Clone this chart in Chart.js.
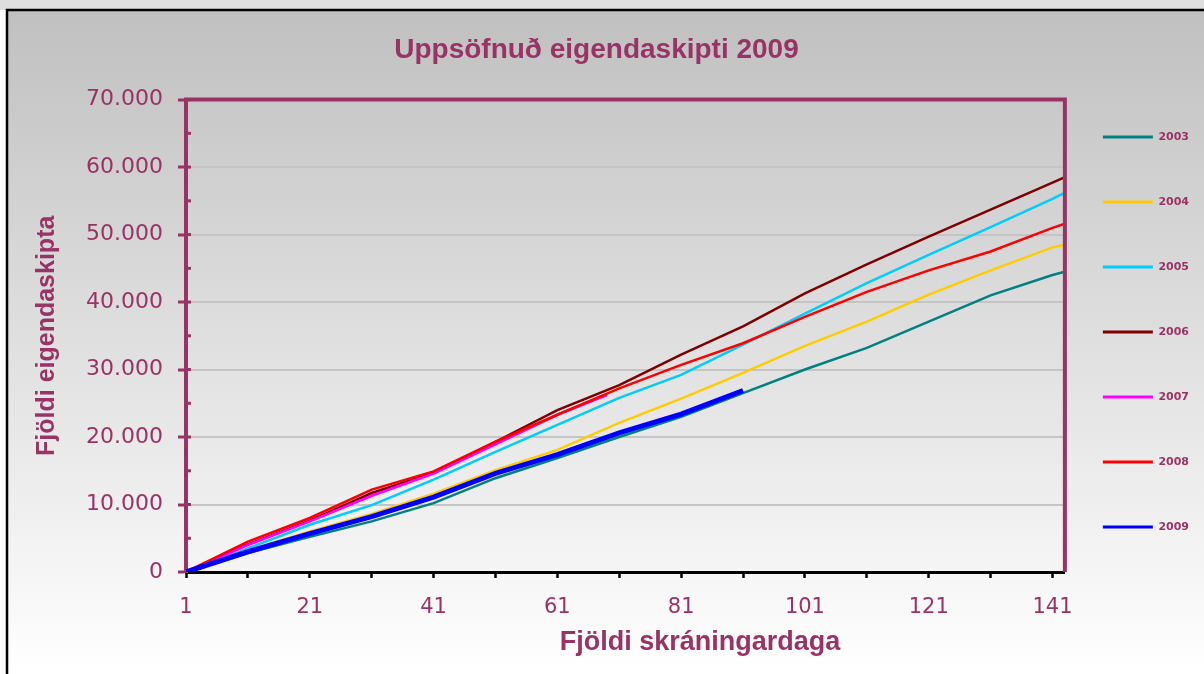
<!doctype html>
<html lang="is">
<head>
  <meta charset="utf-8">
  <title>Uppsöfnuð eigendaskipti 2009</title>
  <script src="https://cdn.jsdelivr.net/npm/chart.js@4/dist/chart.umd.min.js"></script>
  <style>
    body { margin: 0; background: #fff; }
    canvas { display: block; }
  </style>
</head>
<body>
<canvas id="myChart" width="1204" height="674"></canvas>

<script>
var days = [1, 11, 21, 31, 41, 51, 61, 71, 81, 91, 101, 111, 121, 131, 141, 143];
var days2007 = [1, 11, 21, 31, 41, 51, 61, 69];
var days2009 = [1, 11, 21, 31, 41, 51, 61, 71, 81, 91];

var y2003 = [0, 2800, 5200, 7500, 10200, 13900, 16900, 20000, 23000, 26500, 30000, 33200, 37100, 41000, 44000, 44500];
var y2004 = [0, 3200, 6000, 8600, 11600, 15100, 18100, 22100, 25700, 29500, 33500, 37100, 41100, 44700, 48100, 48500];
var y2005 = [0, 3500, 7000, 9900, 13700, 17800, 21800, 25800, 29200, 33700, 38300, 42800, 47000, 51100, 55300, 56200];
var y2006 = [0, 4100, 7600, 11700, 14700, 19300, 24000, 27700, 32200, 36400, 41300, 45600, 49700, 53700, 57700, 58500];
var y2007 = [0, 4000, 7500, 11300, 14600, 18900, 23300, 26200];
var y2008 = [0, 4500, 8000, 12200, 14900, 19300, 23300, 27200, 30700, 33900, 37800, 41500, 44700, 47500, 51000, 51600];
var y2009 = [0, 3000, 5700, 8200, 11100, 14600, 17400, 20600, 23400, 26900];

var years = ['2003', '2004', '2005', '2006', '2007', '2008', '2009'];
var colors = ['#008080', '#FFCC00', '#00CCFF', '#800000', '#FF00FF', '#FF0000', '#0000FF'];

var xTickDays = [1, 11, 21, 31, 41, 51, 61, 71, 81, 91, 101, 111, 121, 131, 141];
var xLabelDays = [1, 21, 41, 61, 81, 101, 121, 141];

var purple = '#993366';

function pts(xs, ys) {
  return xs.map(function (d, i) { return {x: d, y: ys[i]}; });
}
var series = [
  pts(days, y2003), pts(days, y2004), pts(days, y2005), pts(days, y2006),
  pts(days2007, y2007), pts(days, y2008), pts(days2009, y2009)
];

function fmt(v) {
  return String(v).replace(/\B(?=(\d{3})+(?!\d))/g, '.');
}

// gradient background + outer frame
var bgPlugin = {
  id: 'bg',
  beforeDraw: function (chart) {
    var c = chart.ctx, w = chart.width, h = chart.height;
    c.save();
    c.fillStyle = '#ffffff';
    c.fillRect(0, 0, w, h);
    c.fillStyle = '#dedede';
    c.fillRect(0, 0, w, 10);
    var g = c.createLinearGradient(0, 10, 0, h);
    g.addColorStop(0, '#c0c0c0');
    g.addColorStop(1, '#ffffff');
    c.fillStyle = g;
    c.fillRect(7, 10, w - 7, h - 10);
    c.strokeStyle = '#000';
    c.lineWidth = 2.5;
    c.beginPath();
    c.moveTo(7, h);
    c.lineTo(7, 10);
    c.lineTo(w, 10);
    c.stroke();
    c.restore();
  }
};

// top/right frame of the plot, inner y ticks, x axis title
var framePlugin = {
  id: 'frame',
  afterLayout: function (chart) {
    var lg = chart.legend;
    if (lg) { lg.left -= 16; lg.right -= 16; lg.top -= 5; lg.bottom -= 5; }
    var tb = chart.titleBlock;
    if (tb) { tb.left -= 15; tb.right -= 15; }
  },
  afterDraw: function (chart) {
    var c = chart.ctx, a = chart.chartArea, ys = chart.scales.y;
    c.save();
    c.strokeStyle = purple;
    c.lineWidth = 4;
    c.beginPath();
    c.moveTo(a.left - 2, a.top);
    c.lineTo(a.right, a.top);
    c.lineTo(a.right, a.bottom);
    c.stroke();
    c.lineWidth = 3;
    ys.ticks.forEach(function (t) {
      if (t.value === 0) return;
      var yy = ys.getPixelForValue(t.value);
      c.beginPath();
      c.moveTo(a.left, yy);
      c.lineTo(a.left + 5, yy);
      c.stroke();
    });
    c.fillStyle = purple;
    c.font = 'bold 27px "Liberation Sans", Arial, sans-serif';
    c.textAlign = 'center';
    c.textBaseline = 'middle';
    c.fillText('Fjöldi skráningardaga', 700, 643);
    c.restore();
  }
};

var ctx = document.getElementById('myChart').getContext('2d');
var myChart = new Chart(ctx, {
  type: 'line',
  data: {
    datasets: series.map(function (d, i) {
      return {
        label: years[i],
        data: d,
        borderColor: colors[i],
        backgroundColor: colors[i],
        borderWidth: i === 6 ? 5 : 2.5,
        pointRadius: 0,
        tension: 0,
        order: 6 - i
      };
    })
  },
  plugins: [bgPlugin, framePlugin],
  options: {
    responsive: false,
    devicePixelRatio: 1,
    animation: false,
    layout: {padding: {left: 8, right: -11, top: 0, bottom: 0}},
    scales: {
      x: {
        type: 'linear',
        min: 1,
        max: 143,
        afterBuildTicks: function (s) {
          s.ticks = xTickDays.map(function (v) { return {value: v}; });
        },
        afterFit: function (s) { s.height = 102; },
        grid: {display: true, drawOnChartArea: false, tickLength: 6, tickColor: '#000', tickWidth: 2.5},
        border: {color: '#000', width: 3},
        ticks: {
          autoSkip: false,
          maxRotation: 0,
          padding: 17,
          color: purple,
          font: {family: '"DejaVu Sans", Verdana, sans-serif', size: 21},
          callback: function (v) { return xLabelDays.indexOf(v) >= 0 ? String(v) : ''; }
        }
      },
      y: {
        min: 0,
        max: 70000,
        afterFit: function (s) { s.width = 178; },
        grid: {
          color: function (c) { return c.tick && c.tick.value % 10000 === 0 ? '#c4c4c4' : 'rgba(0,0,0,0)'; },
          lineWidth: 2,
          tickLength: 8,
          tickWidth: 3,
          tickColor: function (c) { return c.tick && c.tick.value % 10000 === 0 ? purple : 'rgba(0,0,0,0)'; }
        },
        border: {color: purple, width: 4},
        ticks: {
          stepSize: 5000,
          padding: 15,
          color: purple,
          font: {family: '"DejaVu Sans", Verdana, sans-serif', size: 22},
          callback: function (v) { return v % 10000 === 0 ? fmt(v) : ''; }
        },
        title: {
          display: true,
          text: 'Fjöldi eigendaskipta',
          color: purple,
          font: {family: '"Liberation Sans", Arial, sans-serif', size: 25, weight: 'bold'},
          padding: {top: 24, bottom: 0}
        }
      }
    },
    plugins: {
      title: {
        display: true,
        text: 'Uppsöfnuð eigendaskipti 2009',
        color: purple,
        font: {family: '"Liberation Sans", Arial, sans-serif', size: 28, weight: 'bold'},
        padding: {top: 33, bottom: 33}
      },
      legend: {
        position: 'right',
        labels: {
          usePointStyle: true,
          pointStyle: 'line',
          pointStyleWidth: 50,
          padding: 54,
          color: purple,
          font: {family: '"DejaVu Sans", Verdana, sans-serif', size: 11, weight: 'bold'},
          sort: function (a, b) { return a.datasetIndex - b.datasetIndex; },
          generateLabels: function (chart) {
            var items = Chart.defaults.plugins.legend.labels.generateLabels(chart);
            items.forEach(function (it) { it.lineWidth = 3; });
            return items;
          }
        }
      },
      tooltip: {enabled: false}
    }
  }
});
</script>
</body>
</html>
